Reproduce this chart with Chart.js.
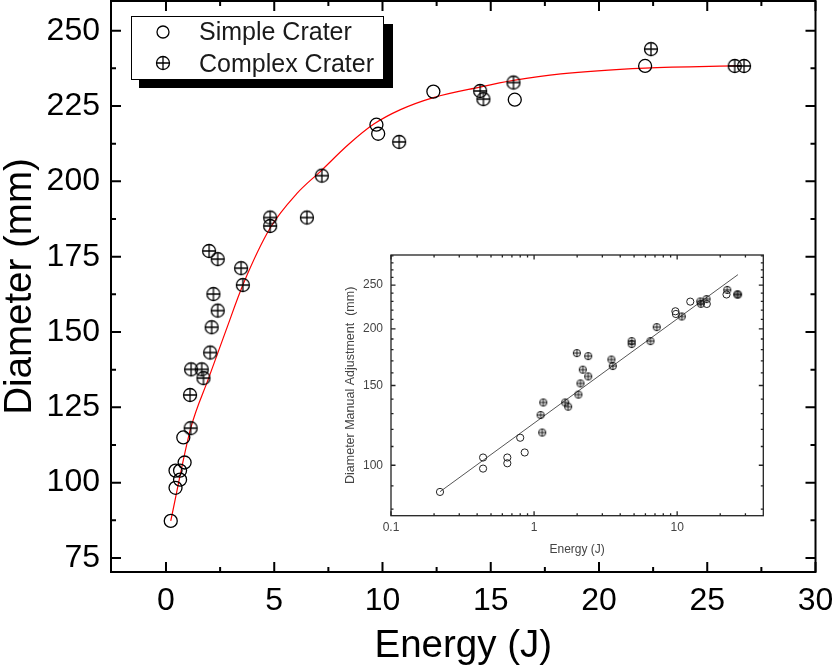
<!DOCTYPE html>
<html><head><meta charset="utf-8">
<script src="https://cdn.jsdelivr.net/npm/chart.js@4.4.1/dist/chart.umd.min.js"></script>
<style>
html,body{margin:0;padding:0;background:#fff;}
#wrap{position:relative;width:832px;height:666px;overflow:hidden;}
#main{position:absolute;left:0;top:0;}
#inset{position:absolute;left:330px;top:240px;}
</style></head><body>
<div id="wrap">
<canvas id="main" width="832" height="666"></canvas>
<canvas id="inset" width="450" height="330"></canvas>
</div>
<script>
// ---------- data ----------
const simpleLabel = 'Simple Crater';
const complexLabel = 'Complex Crater';
const simpleE = [0.22, 0.44, 0.44, 0.65, 0.65, 0.80, 0.86, 9.72, 9.80, 12.35, 16.11, 22.13];
const simpleD = [87.3, 98.3, 104.0, 104.0, 101.0, 115.0, 106.7, 218.8, 215.8, 229.8, 227.1, 238.3];
const complexE = [1.11, 1.14, 1.16, 1.65, 1.73, 1.99, 2.04, 2.11, 2.19, 2.39, 2.39, 3.47, 3.55, 4.81, 4.81, 6.51, 7.20, 10.77, 14.51, 14.66, 16.05, 22.40, 26.27, 26.70];
const complexD = [129.1, 118.1, 137.6, 137.6, 134.7, 176.9, 143.2, 151.6, 162.6, 157.1, 174.2, 171.2, 165.6, 188.0, 185.2, 188.0, 201.9, 213.1, 230.0, 227.3, 232.8, 243.9, 238.3, 238.3];
const fitE = [0.22, 1.14, 1.97, 2.78, 3.55, 4.81, 6.05, 7.16, 8.44, 9.60, 10.83, 12.35, 14.50, 16.05, 18.24, 22.13, 26.60];
const fitD = [87.3, 118.0, 134.7, 150.7, 165.6, 184.5, 196.0, 203.5, 212.3, 219.0, 223.8, 227.8, 231.3, 233.5, 235.7, 237.6, 238.4];
const xTicks = [0, 5, 10, 15, 20, 25, 30];
const xMinor = [2.5, 7.5, 12.5, 17.5, 22.5, 27.5];
const yTicks = [75, 100, 125, 150, 175, 200, 225, 250];
const yMinor = [87.5, 112.5, 137.5, 162.5, 187.5, 212.5, 237.5];
// inset
const insetLineE = [0.22, 26.6];
const insetLineD = [87.4, 263.6];
const insetXTicks = [0.1, 1, 10];
const insetXTickLabels = ['0.1', '1', '10'];
const insetXMinor = [0.2,0.3,0.4,0.5,0.6,0.7,0.8,0.9,2,3,4,5,6,7,8,9,20,30];
const insetYTicks = [100, 150, 200, 250];
const insetYMinor = [80,90,110,120,130,140,160,170,180,190,210,220,230,240,260,270,280,290];

const FONT = "'Liberation Sans', Arial, Helvetica, sans-serif";
const pts = (xs, ys) => xs.map((v, i) => ({x: v, y: ys[i]}));

function plusCircle(r, lw, color) {
  let s = Math.ceil(2 * r + lw * 2 + 2); if (s % 2) s++;
  const c = document.createElement('canvas'); c.width = s; c.height = s;
  const g = c.getContext('2d'); const m = s / 2;
  g.strokeStyle = color; g.lineWidth = lw;
  g.beginPath(); g.arc(m, m, r, 0, 2 * Math.PI); g.stroke();
  g.beginPath(); g.moveTo(m - r, m); g.lineTo(m + r, m); g.moveTo(m, m - r); g.lineTo(m, m + r); g.stroke();
  return c;
}

function drawFrame(chart, o) {
  const {ctx, chartArea: a, scales: {x, y}} = chart;
  ctx.save();
  ctx.strokeStyle = o.color; ctx.lineWidth = o.lw;
  ctx.strokeRect(a.left, a.top, a.right - a.left, a.bottom - a.top);
  ctx.beginPath();
  const vt = (vals, len) => vals.forEach(v => { const p = x.getPixelForValue(v);
    ctx.moveTo(p, a.bottom); ctx.lineTo(p, a.bottom - len); ctx.moveTo(p, a.top); ctx.lineTo(p, a.top + len); });
  const ht = (vals, len) => vals.forEach(v => { const p = y.getPixelForValue(v);
    ctx.moveTo(a.left, p); ctx.lineTo(a.left + len, p); ctx.moveTo(a.right, p); ctx.lineTo(a.right - len, p); });
  vt(o.xMajor, o.major); vt(o.xMinor, o.minor); ht(o.yMajor, o.major); ht(o.yMinor, o.minor);
  ctx.stroke(); ctx.restore();
}

const plusBig = plusCircle(6.5, 1.3, '#000');
const plusSmall = plusCircle(3.6, 1, '#111');

function noPad(s) { s.paddingLeft = 0; s.paddingRight = 0; s.paddingTop = 0; s.paddingBottom = 0; }

const mainPlugin = {
  id: 'mainDeco',
  afterDraw(chart) {
    drawFrame(chart, {color: '#000', lw: 2, major: 10, minor: 5, xMajor: xTicks, xMinor: xMinor, yMajor: yTicks, yMinor: yMinor});
    const ctx = chart.ctx;
    ctx.save();
    // legend with shadow
    ctx.fillStyle = '#000'; ctx.fillRect(139, 24, 254, 64);
    ctx.fillStyle = '#fff'; ctx.fillRect(131, 16, 253, 64);
    ctx.strokeStyle = '#000'; ctx.lineWidth = 1; ctx.strokeRect(131.5, 16.5, 252, 63);
    ctx.lineWidth = 1.3;
    ctx.beginPath(); ctx.arc(163, 32, 6, 0, 2 * Math.PI); ctx.stroke();
    ctx.drawImage(plusBig, 163 - plusBig.width / 2, 63 - plusBig.height / 2);
    ctx.fillStyle = '#1a1a1a'; ctx.font = '25px ' + FONT; ctx.textBaseline = 'alphabetic'; ctx.textAlign = 'left';
    ctx.fillText(simpleLabel, 199, 40);
    ctx.fillText(complexLabel, 199, 72);
    ctx.restore();
  }
};

new Chart(document.getElementById('main'), {
  type: 'scatter',
  data: {
    datasets: [
      {type: 'line', label: 'fit', data: pts(fitE, fitD), borderColor: '#ff0000', borderWidth: 1.2,
       pointRadius: 0, fill: false, cubicInterpolationMode: 'monotone', order: 3},
      {label: simpleLabel, data: pts(simpleE, simpleD), pointStyle: 'circle', pointRadius: 6.5,
       borderColor: '#000', borderWidth: 1.3, backgroundColor: 'rgba(0,0,0,0)', order: 1},
      {label: complexLabel, data: pts(complexE, complexD), pointStyle: plusBig, pointRadius: 6.5, order: 2}
    ]
  },
  options: {
    responsive: false, animation: false, devicePixelRatio: 1,
    layout: {autoPadding: false, padding: {top: 1, right: 16.5, left: 0, bottom: 0}},
    plugins: {legend: {display: false}, tooltip: {enabled: false}},
    scales: {
      x: {type: 'linear', min: -2.54, max: 30,
        afterFit: s => { s.height = 94; noPad(s); },
        afterBuildTicks: s => { s.ticks = xTicks.map(v => ({value: v})); },
        grid: {display: false, drawTicks: false}, border: {display: false},
        ticks: {color: '#000', font: {family: FONT, size: 32, lineHeight: 1.2}, padding: 10, autoSkip: false, maxRotation: 0},
        title: {display: true, text: 'Energy (J)', color: '#000', font: {family: FONT, size: 38.5, lineHeight: 1}, padding: {top: 0, bottom: 0}}
      },
      y: {type: 'linear', min: 70.35, max: 259.86,
        afterFit: s => { s.width = 111; noPad(s); },
        afterBuildTicks: s => { s.ticks = yTicks.map(v => ({value: v})); },
        grid: {display: false, drawTicks: false}, border: {display: false},
        ticks: {color: '#000', font: {family: FONT, size: 32}, padding: 11, autoSkip: false},
        title: {display: true, text: 'Diameter (mm)', color: '#000', font: {family: FONT, size: 38.5, lineHeight: 1}, padding: {top: 1, bottom: 0}}
      }
    }
  },
  plugins: [mainPlugin]
});

const insetPlugin = {
  id: 'insetDeco',
  afterDraw(chart) {
    drawFrame(chart, {color: '#222', lw: 1.3, major: 4.5, minor: 2.5, xMajor: insetXTicks, xMinor: insetXMinor, yMajor: insetYTicks, yMinor: insetYMinor});
  }
};

new Chart(document.getElementById('inset'), {
  type: 'scatter',
  data: {
    datasets: [
      {type: 'line', label: 'power fit', data: pts(insetLineE, insetLineD), borderColor: '#555', borderWidth: 1,
       pointRadius: 0, fill: false, order: 3},
      {label: simpleLabel, data: pts(simpleE, simpleD), pointStyle: 'circle', pointRadius: 3.6,
       borderColor: '#222', borderWidth: 1, backgroundColor: 'rgba(0,0,0,0)', order: 1},
      {label: complexLabel, data: pts(complexE, complexD), pointStyle: plusSmall, pointRadius: 3.6, order: 2}
    ]
  },
  options: {
    responsive: false, animation: false, devicePixelRatio: 1,
    layout: {autoPadding: false, padding: {top: 15, right: 16.7, left: 0, bottom: 0}},
    plugins: {legend: {display: false}, tooltip: {enabled: false}},
    scales: {
      x: {type: 'logarithmic', min: 0.1, max: 40,
        afterFit: s => { s.height = 54.3; noPad(s); },
        afterBuildTicks: s => { s.ticks = insetXTicks.map(v => ({value: v})); },
        grid: {display: false, drawTicks: false}, border: {display: false},
        ticks: {color: '#444', font: {family: FONT, size: 12, lineHeight: 1.2}, padding: 5, autoSkip: false, maxRotation: 0,
          callback: (v) => insetXTickLabels[insetXTicks.indexOf(v)] ?? ''},
        title: {display: true, text: 'Energy (J)', color: '#444', font: {family: FONT, size: 12, lineHeight: 1}, padding: {top: 0, bottom: 14}}
      },
      y: {type: 'logarithmic', min: 77.36, max: 291.3,
        afterFit: s => { s.width = 61; noPad(s); },
        afterBuildTicks: s => { s.ticks = insetYTicks.map(v => ({value: v})); },
        grid: {display: false, drawTicks: false}, border: {display: false},
        ticks: {color: '#444', font: {family: FONT, size: 12}, padding: 8, autoSkip: false,
          callback: (v) => String(v)},
        title: {display: true, text: 'Diameter Manual Adjustment  (mm)', color: '#444', font: {family: FONT, size: 12.5, lineHeight: 1}, padding: {top: 14.5, bottom: 0}}
      }
    }
  },
  plugins: [insetPlugin]
});
</script>
</body></html>
